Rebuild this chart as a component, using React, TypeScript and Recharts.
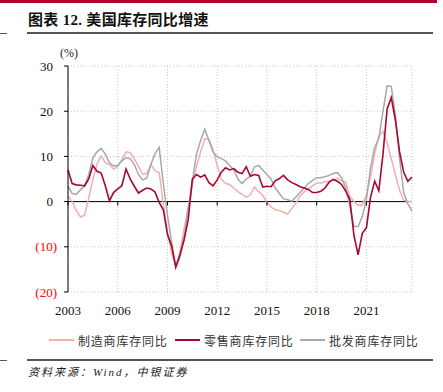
import { LineChart, Line, XAxis, YAxis, CartesianGrid, ReferenceLine } from "recharts";

// quarterly readings, 2003Q1 .. 2023Q4
const startYear = 2003;

const manufacturing = [
  1.2, 0.0, -2.0, -3.4,
  -3.0, 0.8, 4.9, 8.3,
  10.1, 8.6, 8.2, 7.2,
  7.8, 9.3, 11.0, 10.8,
  9.5, 7.8, 6.0, 6.2,
  8.2, 6.8, 6.4, -0.5,
  -6.6, -11.4, -14.3, -11.3,
  -6.0, -1.2, 3.6, 7.8,
  11.0, 13.9, 13.8, 11.5,
  8.0, 5.0, 4.0, 3.8,
  3.0, 2.2, 1.6, 1.0,
  1.5, 3.2, 2.2, 1.4,
  -0.2, -1.2, -1.8, -2.0,
  -2.3, -2.8, -1.5, -0.3,
  1.2, 2.2, 2.8, 3.5,
  4.1, 4.1, 4.4, 4.5,
  4.7, 5.2, 4.6, 4.3,
  1.2, 0.0, -0.8, -0.8,
  1.5, 5.5, 10.5, 14.5,
  15.5, 13.0, 9.5, 6.0,
  2.5, 0.3, 0.0, 0.0,
];

const retail = [
  7.0, 4.0, 3.7, 3.6,
  3.5, 5.0, 8.0, 6.7,
  6.3, 3.5, 0.2, 2.0,
  2.8, 3.5, 7.2, 5.0,
  3.4, 1.9, 2.5, 3.0,
  2.8, 2.1, -0.2, -1.8,
  -7.3, -9.8, -14.5, -11.8,
  -8.5, -4.0, 5.0, 6.0,
  5.4, 5.9, 4.2, 3.5,
  4.8, 6.5, 7.5, 7.0,
  7.3, 6.5, 6.2, 7.7,
  5.6, 6.0, 5.8, 3.2,
  3.4, 3.3, 4.6, 5.1,
  5.8, 4.8, 4.2, 3.8,
  3.3, 3.0, 2.7, 2.0,
  2.0, 2.3, 3.0, 4.3,
  4.9, 4.5, 3.8, 2.3,
  0.5, -7.5, -11.8, -7.0,
  -5.8, 1.0, 4.5, 2.4,
  10.5, 20.5, 23.0, 18.0,
  11.0, 6.5, 4.5, 5.4,
];

const wholesale = [
  3.4, 1.8, 1.6, 2.6,
  3.4, 6.0, 9.7, 11.0,
  11.8, 10.5, 8.6, 7.9,
  8.0, 9.0, 9.7, 9.5,
  8.2, 6.0, 4.8, 5.2,
  8.2, 10.6, 12.0, 4.0,
  -3.0, -9.0, -14.5, -12.3,
  -8.0, -1.8, 4.5, 10.5,
  13.5, 16.0, 13.5, 11.0,
  9.9, 9.5, 9.0, 8.0,
  7.0, 5.0, 4.0, 5.0,
  5.6, 7.7, 8.0, 7.0,
  6.0, 5.0, 3.0, 1.8,
  0.6, 0.4, 0.1, 1.0,
  2.0, 3.0, 4.0, 4.7,
  5.3, 5.3, 5.5, 5.8,
  6.2, 6.4, 5.3, 3.0,
  -1.0, -5.5, -5.5, -3.3,
  0.5, 7.5, 12.0, 14.0,
  20.0, 25.6, 25.5, 19.0,
  9.5, 2.0, -0.5, -2.1,
];

const yearTicks = [2003, 2006, 2009, 2012, 2015, 2018, 2021];
const valueTicks = [-20, -10, 0, 10, 20, 30];
const seriesNames = ["制造商库存同比", "零售商库存同比", "批发商库存同比"];
const colors = ["#F2AFAF", "#A8072E", "#A8A8A8"];

const data = retail.map((_, i) => ({
  t: startYear + i / 4,
  mfg: manufacturing[i],
  retail: retail[i],
  wholesale: wholesale[i],
}));

const PLOT_TOP = 66;
const PLOT_BOTTOM = 292;
const Y_MIN = -20;
const Y_MAX = 30;
const zeroY = PLOT_TOP + ((Y_MAX - 0) / (Y_MAX - Y_MIN)) * (PLOT_BOTTOM - PLOT_TOP);

const serif = "'Liberation Serif', 'Times New Roman', serif";
const cjk = "'Noto Sans CJK SC', sans-serif";

function YTick(props: any) {
  const { x, y, payload } = props;
  const v = payload.value;
  const neg = v < 0;
  return (
    <text
      x={neg ? x - 7 : x - 11}
      y={y}
      dy="0.36em"
      textAnchor="end"
      fontSize={13}
      fontFamily={serif}
      fill={neg ? "#FF0000" : "#111"}
    >
      {neg ? `(${Math.abs(v)})` : v}
    </text>
  );
}

function XTick(props: any) {
  const { x, payload } = props;
  return (
    <g>
      <line x1={x} x2={x} y1={zeroY} y2={zeroY + 4} stroke="#000" />
      <text x={x} y={315} textAnchor="middle" fontSize={13} fontFamily={serif} fill="#111">
        {payload.value}
      </text>
    </g>
  );
}

const legendPos = [49, 175, 300];

export default function App() {
  return (
    <div style={{ position: "absolute", left: 0, top: 0, width: 443, height: 392, background: "#fff", overflow: "hidden" }}>
      <div style={{ position: "absolute", left: 0, top: 0, width: 437, height: 3, background: "#B8002E" }} />
      <div
        style={{
          position: "absolute",
          left: 28,
          top: 10,
          fontSize: 15,
          lineHeight: "20px",
          fontWeight: "bold",
          fontFamily: `'Liberation Serif', ${cjk}`,
          letterSpacing: 0.3,
          color: "#111",
          whiteSpace: "nowrap",
        }}
      >
        图表 12. 美国库存同比增速
      </div>
      <div style={{ position: "absolute", left: 0, top: 33, width: 7, height: 1, background: "#555" }} />
      <div style={{ position: "absolute", left: 27, top: 32, width: 406, height: 2, background: "#555" }} />
      <div style={{ position: "absolute", left: 60, top: 46, fontSize: 12, fontFamily: serif, color: "#222" }}>(%)</div>

      <div style={{ position: "absolute", left: 0, top: 0 }}>
        <LineChart width={443} height={320} data={data} margin={{ top: PLOT_TOP, right: 31, left: 0, bottom: 0 }}>
          <CartesianGrid strokeDasharray="1 2" stroke="#C8C8C8" />
          <XAxis
            dataKey="t"
            type="number"
            domain={[startYear, 2023.75]}
            ticks={yearTicks}
            axisLine={false}
            tickLine={false}
            height={28}
            tick={<XTick />}
            interval={0}
          />
          <YAxis
            domain={[Y_MIN, Y_MAX]}
            ticks={valueTicks}
            width={68}
            axisLine={{ stroke: "#000" }}
            tickLine={{ stroke: "#000" }}
            tickSize={4}
            tickMargin={0}
            tick={<YTick />}
            interval={0}
          />
          <ReferenceLine y={0} stroke="#000" strokeWidth={1} />
          <Line type="linear" dataKey="mfg" stroke={colors[0]} strokeWidth={1.5} dot={false} isAnimationActive={false} />
          <Line type="linear" dataKey="wholesale" stroke={colors[2]} strokeWidth={1.5} dot={false} isAnimationActive={false} />
          <Line type="linear" dataKey="retail" stroke={colors[1]} strokeWidth={1.6} dot={false} isAnimationActive={false} />
        </LineChart>
      </div>

      {seriesNames.map((name, i) => (
        <div key={name} style={{ position: "absolute", left: legendPos[i], top: 331, height: 18, display: "flex", alignItems: "center" }}>
          <div style={{ width: 25, height: i === 1 ? 2 : 1.5, background: colors[i], marginRight: 4 }} />
          <span style={{ fontSize: 12, fontFamily: cjk, color: "#333", letterSpacing: 0.8, whiteSpace: "nowrap" }}>{name}</span>
        </div>
      ))}

      <div style={{ position: "absolute", left: 0, top: 360, width: 7, height: 1, background: "#555" }} />
      <div style={{ position: "absolute", left: 27, top: 359, width: 406, height: 2, background: "#555" }} />
      <div style={{ position: "absolute", left: 28, top: 363, fontSize: 11, fontStyle: "italic", fontFamily: `'Liberation Serif', ${cjk}`, color: "#222", letterSpacing: 2, whiteSpace: "nowrap" }}>
        资料来源：Wind，中银证券
      </div>
    </div>
  );
}
